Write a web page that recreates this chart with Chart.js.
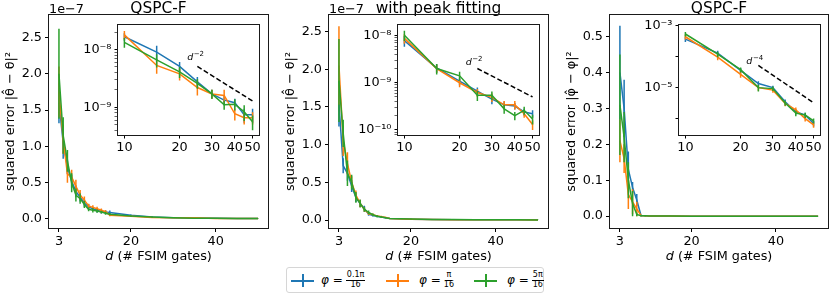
<!DOCTYPE html>
<html>
<head>
<meta charset="utf-8">
<title>QSPC-F squared error</title>
<script src="https://cdn.jsdelivr.net/npm/chart.js@4.4.1/dist/chart.umd.min.js"></script>
<style>
  html, body { margin: 0; padding: 0; background: #fff; }
  body { width: 830px; height: 297px; position: relative; overflow: hidden; font-family: 'DejaVu Sans', sans-serif; }
  canvas { position: absolute; }
  .legend { position: absolute; left: 286px; top: 267px; width: 256px; height: 24px; border: 1px solid #d6d6d6; border-radius: 3px; background: #fff; }
  .mk { position: absolute; top: 6px; width: 23px; height: 13px; }
  .mk::before { content: ''; position: absolute; left: 0; right: 0; top: 6px; height: 1.5px; background: var(--c); }
  .mk::after { content: ''; position: absolute; left: 11px; width: 1.5px; top: 0; bottom: 0; background: var(--c); }
  .lab { position: absolute; top: 0; height: 24px; display: flex; align-items: center; font-size: 12px; color: #000; }
  .frac { display: inline-flex; flex-direction: column; align-items: center; font-size: 8px; line-height: 8.5px; margin-left: 3px; }
  .frac span:first-child { border-bottom: 0.8px solid #000; padding: 0 1px 1px; }
</style>
</head>
<body>
<canvas id="main1" width="270" height="264" style="left:0;top:0"></canvas>
<canvas id="main2" width="270" height="264" style="left:280px;top:0"></canvas>
<canvas id="main3" width="269" height="264" style="left:561px;top:0"></canvas>
<canvas id="inset1" width="192" height="141" style="left:73px;top:14px"></canvas>
<canvas id="inset2" width="192" height="141" style="left:353px;top:14px"></canvas>
<canvas id="inset3" width="192" height="141" style="left:634px;top:14px"></canvas>

<div class="legend">
  <span class="mk" style="left:4px;--c:#1f77b4"></span>
  <span class="lab" style="left:34px"><i>φ</i>&nbsp;=<span class="frac"><span>0.1π</span><span>16</span></span></span>
  <span class="mk" style="left:99px;--c:#ff7f0e"></span>
  <span class="lab" style="left:132px"><i>φ</i>&nbsp;=<span class="frac"><span>π</span><span>16</span></span></span>
  <span class="mk" style="left:187px;--c:#2ca02c"></span>
  <span class="lab" style="left:220px"><i>φ</i>&nbsp;=<span class="frac"><span>5π</span><span>16</span></span></span>
</div>

<script>
  // ---- data ----
  const SERIES_LABELS = ['φ = 0.1π/16', 'φ = π/16', 'φ = 5π/16'];
  const COLORS = ['#1f77b4', '#ff7f0e', '#2ca02c'];

  // main panels: d on x
  const D_MAIN = [3, 4, 5, 6, 7, 8, 9, 10, 11, 12, 13, 14, 15, 20, 25, 30, 35, 40, 45, 50];
  const MAIN_X_TICKS = [3, 20, 40];

  // panel 1 (QSPC-F, theta), units of 1e-7
  const P1_BLUE = [1.60, 1.05, 0.72, 0.52, 0.38, 0.30, 0.22, 0.167, 0.14, 0.12, 0.105, 0.095, 0.090, 0.051, 0.028, 0.017, 0.013, 0.012, 0.0074, 0.0074];
  const P1_BLUE_ERR = [0.28, 0.22, 0.10, 0.09, 0.08, 0.06, 0.05, 0.04, 0.03, 0.03, 0.03, 0.025, 0.027, 0.01, 0.006, 0.003, 0.003, 0.003, 0.002, 0.002];
  const P1_ORANGE = [1.75, 1.10, 0.62, 0.58, 0.45, 0.33, 0.26, 0.18, 0.16, 0.14, 0.12, 0.10, 0.053, 0.038, 0.022, 0.017, 0.016, 0.0077, 0.0066, 0.0066];
  const P1_ORANGE_ERR = [0.35, 0.20, 0.12, 0.10, 0.09, 0.07, 0.05, 0.03, 0.03, 0.03, 0.025, 0.02, 0.015, 0.009, 0.006, 0.003, 0.004, 0.0015, 0.0015, 0.0015];
  const P1_GREEN = [2.00, 1.15, 0.80, 0.50, 0.33, 0.28, 0.20, 0.133, 0.12, 0.11, 0.095, 0.08, 0.066, 0.041, 0.026, 0.017, 0.011, 0.0113, 0.0083, 0.0056];
  const P1_GREEN_ERR = [0.62, 0.25, 0.15, 0.13, 0.09, 0.07, 0.05, 0.025, 0.03, 0.025, 0.02, 0.02, 0.015, 0.009, 0.005, 0.003, 0.002, 0.0025, 0.0025, 0.0015];

  // panel 2 (with peak fitting), units of 1e-7
  const P2_BLUE = [1.54, 0.72, 0.62, 0.45, 0.30, 0.22, 0.15, 0.078, 0.06, 0.05, 0.04, 0.03, 0.0205, 0.0108, 0.0066, 0.0045, 0.0034, 0.0032, 0.0024, 0.0022];
  const P2_BLUE_ERR = [0.30, 0.10, 0.10, 0.08, 0.06, 0.05, 0.04, 0.02, 0.015, 0.012, 0.01, 0.008, 0.004, 0.002, 0.0013, 0.001, 0.0006, 0.0005, 0.0004, 0.0004];
  const P2_ORANGE = [2.05, 1.05, 0.75, 0.50, 0.33, 0.22, 0.14, 0.087, 0.07, 0.055, 0.045, 0.035, 0.020, 0.010, 0.0062, 0.0049, 0.0034, 0.0034, 0.0022, 0.0013];
  const P2_ORANGE_ERR = [0.52, 0.20, 0.15, 0.08, 0.06, 0.05, 0.03, 0.02, 0.015, 0.012, 0.01, 0.008, 0.004, 0.002, 0.0012, 0.001, 0.0007, 0.0007, 0.0004, 0.0003];
  const P2_GREEN = [1.85, 1.15, 0.62, 0.50, 0.30, 0.22, 0.14, 0.102, 0.07, 0.05, 0.04, 0.03, 0.020, 0.014, 0.0054, 0.0054, 0.0028, 0.0020, 0.0026, 0.0017];
  const P2_GREEN_ERR = [0.55, 0.18, 0.17, 0.10, 0.07, 0.05, 0.03, 0.025, 0.015, 0.012, 0.01, 0.008, 0.005, 0.003, 0.0013, 0.0011, 0.0006, 0.0004, 0.0005, 0.0004];

  // panel 3 (QSPC-F, phi), raw values
  const P3_BLUE = [0.40, 0.30, 0.13, 0.08, 0.045, 0.002, 0.001, 3.7e-4, 3e-4, 2.3e-4, 1.8e-4, 1.5e-4, 1.3e-4, 3.6e-5, 1.35e-5, 1e-5, 3.5e-6, 1.66e-6, 1.3e-6, 7e-7];
  const P3_BLUE_ERR = [0.13, 0.08, 0.05, 0.015, 0.017, 0.002, 0.001, 7e-5, 6e-5, 5e-5, 4e-5, 3e-5, 2.5e-5, 7e-6, 2.5e-6, 1.5e-6, 6e-7, 3e-7, 2.5e-7, 1.4e-7];
  const P3_ORANGE = [0.21, 0.16, 0.06, 0.04, 0.02, 0.002, 0.001, 4.4e-4, 3.3e-4, 2.4e-4, 1.8e-4, 1.3e-4, 9.6e-5, 2.7e-5, 1e-5, 8.3e-6, 3.1e-6, 1.9e-6, 1e-6, 6.3e-7];
  const P3_ORANGE_ERR = [0.06, 0.04, 0.04, 0.035, 0.02, 0.002, 0.001, 8e-5, 6e-5, 5e-5, 4e-5, 3e-5, 2e-5, 6e-6, 2e-6, 1.5e-6, 6e-7, 4e-7, 2e-7, 1.2e-7];
  const P3_GREEN = [0.31, 0.22, 0.10, 0.035, 0.005, 0.001, 0.001, 5.4e-4, 4e-4, 2.9e-4, 2.1e-4, 1.6e-4, 1.2e-4, 3.8e-5, 1e-5, 9.3e-6, 3.2e-6, 1.5e-6, 1.3e-6, 8.5e-7];
  const P3_GREEN_ERR = [0.14, 0.07, 0.05, 0.035, 0.005, 0.001, 0.001, 9e-5, 7e-5, 6e-5, 5e-5, 3e-5, 2.5e-5, 7e-6, 2.5e-6, 1.5e-6, 6e-7, 3e-7, 2.5e-7, 1.5e-7];

  // insets: log-log, d = 10..50
  const D_INSET = [10, 15, 20, 25, 30, 35, 40, 45, 50];
  const INSET_X_TICKS = [10, 20, 30, 40, 50];
  const REF_D = [25, 50];

  const I1_BLUE = [1.67e-8, 9.0e-9, 5.1e-9, 2.75e-9, 1.7e-9, 1.33e-9, 1.2e-9, 7.4e-10, 7.4e-10];
  const I1_BLUE_ERR = [2.5e-9, 2.7e-9, 1.0e-9, 6e-10, 3e-10, 2.5e-10, 2e-10, 2e-10, 2e-10];
  const I1_ORANGE = [1.8e-8, 5.3e-9, 3.8e-9, 2.2e-9, 1.7e-9, 1.6e-9, 7.7e-10, 6.6e-10, 6.6e-10];
  const I1_ORANGE_ERR = [3e-9, 1.5e-9, 9e-10, 6e-10, 3e-10, 4e-10, 1.8e-10, 1.6e-10, 1.6e-10];
  const I1_GREEN = [1.33e-8, 6.6e-9, 4.1e-9, 2.6e-9, 1.7e-9, 1.1e-9, 1.13e-9, 8.3e-10, 5.6e-10];
  const I1_GREEN_ERR = [2.5e-9, 1.7e-9, 9e-10, 5e-10, 3e-10, 2e-10, 2.5e-10, 2.5e-10, 1.6e-10];
  const I1_REF = [5.1e-9, 1.28e-9];

  const I2_BLUE = [7.8e-9, 2.05e-9, 1.08e-9, 6.6e-10, 4.5e-10, 3.4e-10, 3.2e-10, 2.4e-10, 2.2e-10];
  const I2_BLUE_ERR = [2e-9, 4e-10, 2e-10, 1.3e-10, 1e-10, 6e-11, 5e-11, 4e-11, 4e-11];
  const I2_ORANGE = [8.7e-9, 2.0e-9, 1.0e-9, 6.2e-10, 4.9e-10, 3.4e-10, 3.4e-10, 2.2e-10, 1.3e-10];
  const I2_ORANGE_ERR = [2e-9, 4e-10, 2e-10, 1.2e-10, 1e-10, 7e-11, 7e-11, 4e-11, 3e-11];
  const I2_GREEN = [1.02e-8, 2.0e-9, 1.4e-9, 5.4e-10, 5.4e-10, 2.8e-10, 2.0e-10, 2.6e-10, 1.7e-10];
  const I2_GREEN_ERR = [2.5e-9, 5e-10, 3e-10, 1.3e-10, 1.1e-10, 6e-11, 4e-11, 5e-11, 4e-11];
  const I2_REF = [2e-9, 5e-10];

  const I3_BLUE = [3.7e-4, 1.3e-4, 3.6e-5, 1.35e-5, 1e-5, 3.5e-6, 1.66e-6, 1.3e-6, 7e-7];
  const I3_BLUE_ERR = [7e-5, 2.5e-5, 7e-6, 2.5e-6, 1.5e-6, 6e-7, 3e-7, 2.5e-7, 1.4e-7];
  const I3_ORANGE = [4.4e-4, 9.6e-5, 2.7e-5, 1e-5, 8.3e-6, 3.1e-6, 1.9e-6, 1e-6, 6.3e-7];
  const I3_ORANGE_ERR = [8e-5, 2e-5, 6e-6, 2e-6, 1.5e-6, 6e-7, 4e-7, 2e-7, 1.2e-7];
  const I3_GREEN = [5.4e-4, 1.2e-4, 3.8e-5, 1e-5, 9.3e-6, 3.2e-6, 1.5e-6, 1.3e-6, 8.5e-7];
  const I3_GREEN_ERR = [9e-5, 2.5e-5, 7e-6, 2.5e-6, 1.5e-6, 6e-7, 3e-7, 2.5e-7, 1.5e-7];
  const I3_REF = [5.2e-5, 3.25e-6];

  // ---- helpers / plugins ----
  const FONT = "'DejaVu Sans', sans-serif";
  const FS = 12.8;
  const SUP = { '0': '⁰', '1': '¹', '2': '²', '3': '³', '4': '⁴', '5': '⁵', '6': '⁶', '7': '⁷', '8': '⁸', '9': '⁹', '-': '⁻' };
  const sup = e => String(e).split('').map(c => SUP[c]).join('');

  function points(xs, ys) {
    return xs.map((x, i) => ({ x, y: ys[i] }));
  }

  function seriesSets(xs, vals) {
    // vals: [blue, blueErr, orange, orangeErr, green, greenErr]
    return [0, 1, 2].map(k => ({
      label: SERIES_LABELS[k],
      data: points(xs, vals[2 * k]),
      errors: vals[2 * k + 1],
      borderColor: COLORS[k],
      backgroundColor: COLORS[k],
      borderWidth: 1.5,
      pointRadius: 0,
      tension: 0,
      order: 3 - k
    }));
  }

  const errorBars = {
    id: 'errorBars',
    afterDatasetDraw(chart, args) {
      const ds = chart.data.datasets[args.index];
      if (!ds.errors) return;
      const xs = chart.scales.x, ys = chart.scales.y, a = chart.chartArea, ctx = chart.ctx;
      const isLog = ys.type === 'logarithmic';
      ctx.save();
      ctx.beginPath();
      ctx.rect(a.left, a.top, a.right - a.left, a.bottom - a.top);
      ctx.clip();
      ctx.strokeStyle = ds.borderColor;
      ctx.lineWidth = 1.5;
      ctx.beginPath();
      ds.data.forEach((p, i) => {
        const e = ds.errors[i];
        let lo = p.y - e;
        if (isLog && lo <= 0) lo = ys.min / 10;
        const x = xs.getPixelForValue(p.x);
        ctx.moveTo(x, ys.getPixelForValue(p.y + e));
        ctx.lineTo(x, ys.getPixelForValue(lo));
      });
      ctx.stroke();
      ctx.restore();
    }
  };

  const frame = {
    id: 'frame',
    beforeDraw(chart, args, opts) {
      if (!opts.fill) return;
      const a = chart.chartArea;
      chart.ctx.save();
      chart.ctx.fillStyle = opts.fill;
      chart.ctx.fillRect(a.left, a.top, a.right - a.left, a.bottom - a.top);
      chart.ctx.restore();
    },
    afterDatasetsDraw(chart) {
      const a = chart.chartArea, ctx = chart.ctx;
      ctx.save();
      ctx.strokeStyle = '#1a1a1a';
      ctx.lineWidth = 1;
      ctx.strokeRect(Math.round(a.left) - 0.5, Math.round(a.top) - 0.5, Math.round(a.right - a.left) + 1, Math.round(a.bottom - a.top) + 1);
      ctx.restore();
    }
  };

  // offset text ("1e−7") and the x-axis label with an italic d
  const axisText = {
    id: 'axisText',
    afterDraw(chart, args, opts) {
      const ctx = chart.ctx, a = chart.chartArea;
      ctx.save();
      ctx.fillStyle = '#000';
      ctx.font = `${FS}px ${FONT}`;
      if (opts.offset) {
        ctx.textBaseline = 'alphabetic';
        ctx.fillText(opts.offset, a.left, a.top - 2);
      }
      ctx.textBaseline = 'middle';
      const rest = ' (# FSIM gates)';
      const wRest = ctx.measureText(rest).width;
      ctx.font = `italic ${FS}px ${FONT}`;
      const wD = ctx.measureText('d').width;
      const x0 = (a.left + a.right) / 2 - (wD + wRest) / 2;
      ctx.fillText('d', x0, 257);
      ctx.font = `${FS}px ${FONT}`;
      ctx.fillText(rest, x0 + wD, 257);
      ctx.restore();
    }
  };

  const slopeNote = {
    id: 'slopeNote',
    afterDraw(chart, args, opts) {
      if (!opts.exp) return;
      const ctx = chart.ctx;
      const x = chart.scales.x.getPixelForValue(opts.x);
      const y = chart.scales.y.getPixelForValue(opts.y);
      ctx.save();
      ctx.fillStyle = '#000';
      ctx.textBaseline = 'alphabetic';
      ctx.font = `italic 9.5px ${FONT}`;
      ctx.fillText('d', x, y);
      const w = ctx.measureText('d').width;
      ctx.font = `7px ${FONT}`;
      ctx.fillText(opts.exp, x + w + 0.5, y - 4);
      ctx.restore();
    }
  };

  const tickFont = { family: FONT, size: FS };

  function makeMain(id, title, yLabel, sets, yMin, yMax, yTicks, offset) {
    return new Chart(document.getElementById(id), {
      type: 'line',
      data: { datasets: sets },
      plugins: [errorBars, frame, axisText],
      options: {
        responsive: false,
        animation: false,
        events: [],
        layout: { padding: { left: 3, right: 2, top: 0, bottom: 0 } },
        plugins: {
          legend: { display: false },
          tooltip: { enabled: false },
          title: {
            display: true, text: title, color: '#000', fullSize: false,
            padding: { top: 4, bottom: 0 },
            font: { family: FONT, size: 15.4, weight: 'normal', lineHeight: 0.714 }
          },
          axisText: { offset },
          frame: {}
        },
        scales: {
          x: {
            type: 'linear', min: 0.65, max: 52.35,
            afterBuildTicks: s => { s.ticks = MAIN_X_TICKS.map(v => ({ value: v })); },
            afterFit: s => { s.height = 36; },
            ticks: { color: '#000', font: tickFont, padding: 2, maxRotation: 0, autoSkip: false, callback: v => String(v) },
            grid: { drawOnChartArea: false, drawTicks: true, tickLength: 4, color: '#000' },
            border: { display: false }
          },
          y: {
            type: 'linear', min: yMin, max: yMax,
            afterBuildTicks: s => { s.ticks = yTicks.map(v => ({ value: v })); },
            afterFit: s => { s.width = 46; },
            ticks: { color: '#000', font: tickFont, padding: 3, autoSkip: false, callback: v => v.toFixed(1) },
            grid: { drawOnChartArea: false, drawTicks: true, tickLength: 4, color: '#000' },
            border: { display: false },
            title: { display: true, text: yLabel, color: '#000', padding: 0, font: tickFont }
          }
        }
      }
    });
  }

  function logTicks(min, max, subs) {
    const out = [];
    for (let e = Math.floor(Math.log10(min)); e <= Math.ceil(Math.log10(max)); e++) {
      subs.forEach(k => {
        const v = k * Math.pow(10, e);
        if (v >= min && v <= max) out.push({ value: v, major: k === 1 });
      });
    }
    return out;
  }

  function makeInset(id, sets, refVals, yMin, yMax, subs, labelExps, note) {
    const ref = {
      label: 'ref', data: points(REF_D, refVals), borderColor: '#000', backgroundColor: '#000',
      borderWidth: 1.5, borderDash: [5, 2.5], pointRadius: 0, order: 0
    };
    return new Chart(document.getElementById(id), {
      type: 'line',
      data: { datasets: sets.concat([ref]) },
      plugins: [errorBars, frame, slopeNote],
      options: {
        responsive: false,
        animation: false,
        events: [],
        layout: { padding: { left: 0, right: 6, top: 10, bottom: 0 } },
        plugins: {
          legend: { display: false },
          tooltip: { enabled: false },
          frame: { fill: '#fff' },
          slopeNote: note
        },
        scales: {
          x: {
            type: 'logarithmic', min: 9.23, max: 54.2,
            afterBuildTicks: s => { s.ticks = INSET_X_TICKS.map(v => ({ value: v })); },
            afterFit: s => { s.height = 20; },
            ticks: { color: '#000', font: tickFont, padding: 1, maxRotation: 0, autoSkip: false, callback: v => String(v) },
            grid: { drawOnChartArea: false, drawTicks: true, tickLength: 3.5, color: '#000' },
            border: { display: false }
          },
          y: {
            type: 'logarithmic', min: yMin, max: yMax,
            afterBuildTicks: s => { s.ticks = logTicks(yMin, yMax, subs); },
            afterFit: s => { s.width = 45; },
            ticks: {
              color: '#000', font: tickFont, padding: 3, autoSkip: false,
              callback: v => {
                const e = Math.round(Math.log10(v));
                if (Math.abs(v / Math.pow(10, e) - 1) > 1e-6) return '';
                return labelExps.includes(e) ? '10' + sup(e) : '';
              }
            },
            grid: {
              drawOnChartArea: false, drawTicks: true, tickLength: 3.5, color: '#000',
              tickWidth: c => (c.tick && c.tick.major ? 1 : 0.6)
            },
            border: { display: false }
          }
        }
      }
    });
  }

  const THETA_LABEL = 'squared error |θ̂ − θ|²';
  const PHI_LABEL = 'squared error |φ̂ − φ|²';
  const TICKS_THETA = [0, 0.5, 1.0, 1.5, 2.0, 2.5];
  const TICKS_PHI = [0, 0.1, 0.2, 0.3, 0.4, 0.5];

  makeMain('main1', 'QSPC-F', THETA_LABEL,
    seriesSets(D_MAIN, [P1_BLUE, P1_BLUE_ERR, P1_ORANGE, P1_ORANGE_ERR, P1_GREEN, P1_GREEN_ERR]),
    -0.124, 2.81, TICKS_THETA, '1e−7');
  makeMain('main2', 'with peak fitting', THETA_LABEL,
    seriesSets(D_MAIN, [P2_BLUE, P2_BLUE_ERR, P2_ORANGE, P2_ORANGE_ERR, P2_GREEN, P2_GREEN_ERR]),
    -0.106, 2.72, TICKS_THETA, '1e−7');
  makeMain('main3', 'QSPC-F', PHI_LABEL,
    seriesSets(D_MAIN, [P3_BLUE, P3_BLUE_ERR, P3_ORANGE, P3_ORANGE_ERR, P3_GREEN, P3_GREEN_ERR]),
    -0.033, 0.56, TICKS_PHI, '');

  const ALL_SUBS = [1, 2, 3, 4, 5, 6, 7, 8, 9];
  makeInset('inset1',
    seriesSets(D_INSET, [I1_BLUE, I1_BLUE_ERR, I1_ORANGE, I1_ORANGE_ERR, I1_GREEN, I1_GREEN_ERR]),
    I1_REF, 3.3e-10, 2.7e-8, ALL_SUBS, [-8, -9], { x: 22, y: 6.5e-9, exp: '−2' });
  makeInset('inset2',
    seriesSets(D_INSET, [I2_BLUE, I2_BLUE_ERR, I2_ORANGE, I2_ORANGE_ERR, I2_GREEN, I2_GREEN_ERR]),
    I2_REF, 7.8e-11, 1.7e-8, ALL_SUBS, [-8, -9, -10], { x: 21.6, y: 2.4e-9, exp: '−2' });
  makeInset('inset3',
    seriesSets(D_INSET, [I3_BLUE, I3_BLUE_ERR, I3_ORANGE, I3_ORANGE_ERR, I3_GREEN, I3_GREEN_ERR]),
    I3_REF, 2.95e-7, 1.08e-3, [1], [-3, -5], { x: 21.5, y: 6e-5, exp: '−4' });
</script>
</body>
</html>
